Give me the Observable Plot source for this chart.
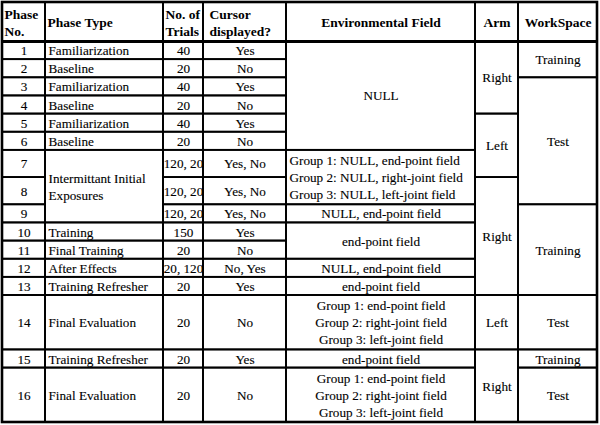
<!DOCTYPE html>
<html><head><meta charset="utf-8">
<script src="https://cdn.jsdelivr.net/npm/d3@7"></script>
<script src="https://cdn.jsdelivr.net/npm/@observablehq/plot@0.6"></script>
<style>
body{margin:0;background:#fff;}
.hdr text, .bdy text { font-family: "Liberation Serif", "Times New Roman", "DejaVu Serif", serif !important; }
</style>
</head><body><div id="chart"></div>
<script>
// ---- Data ----
const headers = ["Phase\nNo.", "Phase Type", "No. of\nTrials", "Cursor\ndisplayed?", "Environmental Field", "Arm", "WorkSpace"];
const phaseNo = ["1","2","3","4","5","6","7","8","9","10","11","12","13","14","15","16"];
// [text, number of rows spanned]
const phaseType = [
  ["Familiarization",1],["Baseline",1],["Familiarization",1],["Baseline",1],
  ["Familiarization",1],["Baseline",1],["Intermittant Initial\nExposures",3],
  ["Training",1],["Final Training",1],["After Effects",1],["Training Refresher",1],
  ["Final Evaluation",1],["Training Refresher",1],["Final Evaluation",1]
];
const trials = ["40","20","40","20","40","20","120, 20","120, 20","120, 20","150","20","20, 120","20","20","20","20"];
const cursor = ["Yes","No","Yes","No","Yes","No","Yes, No","Yes, No","Yes, No","Yes","No","No, Yes","Yes","No","Yes","No"];
const envField = [
  ["NULL",6],
  ["Group 1: NULL, end-point field\nGroup 2: NULL, right-joint field\nGroup 3: NULL, left-joint field",2],
  ["NULL, end-point field",1],
  ["end-point field",2],
  ["NULL, end-point field",1],
  ["end-point field",1],
  ["Group 1: end-point field\nGroup 2: right-joint field\nGroup 3: left-joint field",1],
  ["end-point field",1],
  ["Group 1: end-point field\nGroup 2: right-joint field\nGroup 3: left-joint field",1]
];
const arm = [["Right",4],["Left",3],["Right",6],["Left",1],["Right",2]];
const workspace = [["Training",2],["Test",6],["Training",5],["Test",1],["Training",1],["Test",1]];

// ---- Layout (styling) ----
const colWidths = [43, 118, 40, 83, 189, 43, 79];
const headerAlign = ["start","start","start","start","middle","middle","middle"];
const headerDx = [2, 2, 2, 6, 0, 0, 0];
const bodyAlign = ["middle","start","middle","middle","middle","middle","middle"];

const columns = [
  phaseNo.map(t => [t, 1]), phaseType, trials.map(t => [t, 1]), cursor.map(t => [t, 1]),
  envField, arm, workspace
];
const cells = [];
columns.forEach((col, c) => {
  let r = 0;
  col.forEach(([text, span]) => {
    let align = bodyAlign[c];
    // the two-row grouped environmental field is left aligned
    if (c === 4 && span > 1 && text.includes("\n")) align = "start";
    cells.push({c, r0: r, r1: r + span, text, align});
    r += span;
  });
});
const nRows = phaseNo.length;
const rowUnits = new Array(nRows).fill(1);
for (const d of cells) {
  const per = d.text.split("\n").length / (d.r1 - d.r0);
  for (let r = d.r0; r < d.r1; r++) rowUnits[r] = Math.max(rowUnits[r], per);
}
const headerUnits = 2.15;
const yEdge = [0, headerUnits];
rowUnits.forEach(u => yEdge.push(yEdge[yEdge.length - 1] + u));
const totalH = yEdge[yEdge.length - 1];
const xEdge = [0];
colWidths.forEach(w => xEdge.push(xEdge[xEdge.length - 1] + w));
const totalW = xEdge[xEdge.length - 1];
const headerCells = headers.map((text, c) => ({c, text, align: headerAlign[c], dx: headerDx[c]}));
const cx = d => d.align === "start" ? xEdge[d.c] + (d.dx ?? 3) * totalW / 595 : (xEdge[d.c] + xEdge[d.c + 1]) / 2;
const cy = d => (yEdge[d.r0 + 1] + yEdge[d.r1 + 1]) / 2;

const hdrText = {className: "hdr", y: headerUnits / 2, text: "text", lineAnchor: "middle", lineHeight: 1.25, fontSize: 13.5, fontWeight: "bold", fill: "#000"};
const bdyText = {className: "bdy", y: cy, dy: -1, text: "text", lineAnchor: "middle", lineHeight: 1.3, fontSize: 13.2, fill: "#000", stroke: "#000", strokeWidth: 0.12};

const chart = Plot.plot({
  width: 600, height: 425, margin: 0,
  style: {background: "#fff"},
  x: {domain: [0, totalW], range: [2, 597], axis: null},
  y: {domain: [0, totalH], range: [2, 422], axis: null},
  marks: [
    Plot.rect(cells, {x1: d => xEdge[d.c], x2: d => xEdge[d.c + 1], y1: d => yEdge[d.r0 + 1], y2: d => yEdge[d.r1 + 1], fill: "none", stroke: "#000", strokeWidth: 1.8}),
    Plot.rect(headerCells, {x1: d => xEdge[d.c], x2: d => xEdge[d.c + 1], y1: 0, y2: headerUnits, fill: "none", stroke: "#000", strokeWidth: 1.8}),
    Plot.ruleY([headerUnits], {x1: 0, x2: totalW, stroke: "#000", strokeWidth: 3}),
    Plot.rect([0], {x1: 0, x2: totalW, y1: 0, y2: totalH, fill: "none", stroke: "#000", strokeWidth: 2.6}),
    Plot.text(headerCells.filter(d => d.align === "start"), {...hdrText, x: cx, textAnchor: "start"}),
    Plot.text(headerCells.filter(d => d.align === "middle"), {...hdrText, x: cx, textAnchor: "middle"}),
    Plot.text(cells.filter(d => d.align === "start"), {...bdyText, x: cx, textAnchor: "start"}),
    Plot.text(cells.filter(d => d.align === "middle"), {...bdyText, x: cx, textAnchor: "middle"})
  ]
});
document.getElementById("chart").appendChild(chart);
</script>
</body></html>
